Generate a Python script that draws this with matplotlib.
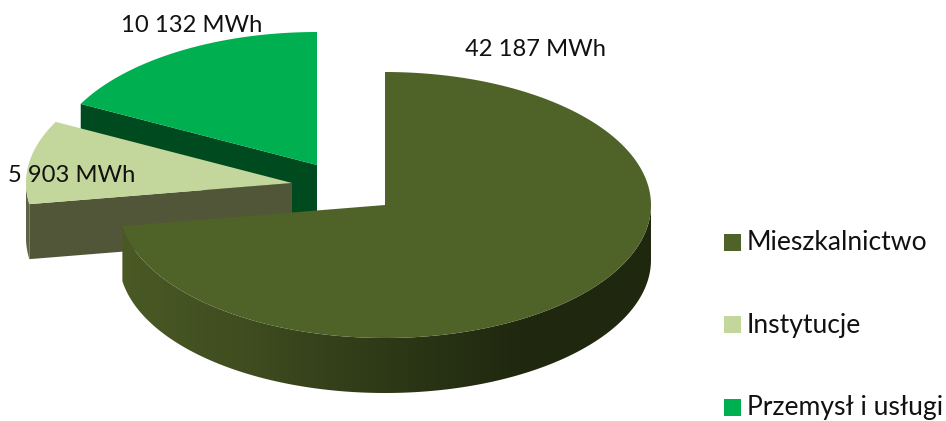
import numpy as np
import matplotlib
matplotlib.use("Agg")
import matplotlib.pyplot as plt
from matplotlib.colors import LinearSegmentedColormap
from matplotlib.patches import Polygon, Rectangle

categories = ["Mieszkalnictwo", "Instytucje", "Przemysł i usługi"]
values = [42187, 5903, 10132]
value_labels = ["42 187 MWh", "5 903 MWh", "10 132 MWh"]

top_colors = ["#4F6228", "#C3D69B", "#00B050"]
side_colors = ["#36431B", "#525639", "#004A20"]
centers = [(385, 205), (292, 183), (317, 165)]  # exploded slices, pixels

RX, RY = 266, 133
DEPTH = 55

plt.rcParams["font.family"] = ["Lato", "DejaVu Sans"]


def arc(cx, cy, a0, a1):
    # angles in degrees, clockwise from the top of the pie
    t = np.radians(np.linspace(a0, a1, 200))
    return np.column_stack([cx + RX * np.sin(t), cy - RY * np.cos(t)])


fig = plt.figure(figsize=(9.46, 4.21), dpi=100)
ax = fig.add_axes([0, 0, 1, 1])

fractions = np.array(values) / sum(values)
stops = np.concatenate([[0], np.cumsum(fractions) * 360])

# back to front: last slice sits furthest away
for i in [2, 1, 0]:
    cx, cy = centers[i]
    a0, a1 = stops[i], stops[i + 1]
    rim = arc(cx, cy, a0, a1)
    tip = np.array([[cx, cy]])

    if i == 0:
        # outer wall, only the front part can be seen
        front = arc(cx, cy, 90, a1)
        wall = np.vstack([front, front[::-1] + [0, DEPTH]])
        shade = LinearSegmentedColormap.from_list(
            "wall", ["#4A5A25", "#3E4C1F", "#2E3917", "#20280F", "#1F2710"])
        img = ax.imshow(np.linspace(0, 1, 256).reshape(1, -1), cmap=shade,
                        extent=[cx - RX, cx + RX, 421, 0], aspect="auto", zorder=i * -1 + 5)
        img.set_clip_path(Polygon(wall, transform=ax.transData))
    else:
        # cut face on the leading edge, seen from the front left
        start = rim[0]
        face = np.array([start, tip[0], tip[0] + [0, DEPTH], start + [0, DEPTH]])
        ax.add_patch(Polygon(face, fc=side_colors[i], ec="none", zorder=-i + 5))
        if i == 1:
            left = arc(cx, cy, a0, 270)
            wall = np.vstack([left, left[::-1] + [0, DEPTH]])
            ax.add_patch(Polygon(wall, fc="#5E6245", ec="none", zorder=-i + 5))

    ax.add_patch(Polygon(np.vstack([tip, rim]), fc=top_colors[i], ec="none", zorder=-i + 5.1))

# value labels
ax.text(535, 50, value_labels[0], ha="center", va="center", fontsize=17.1, color="#111111", zorder=10)
ax.text(72, 175, value_labels[1], ha="center", va="center", fontsize=17.1, color="#111111", zorder=10)
ax.text(192, 25, value_labels[2], ha="center", va="center", fontsize=17.1, color="#111111", zorder=10)

# legend
for name, color, y in zip(categories, top_colors, [243, 325, 408]):
    ax.add_patch(Rectangle((724, y - 9.5), 17, 17, fc=color, ec="none", zorder=10))
    ax.text(747, y, name, ha="left", va="center", fontsize=19.1, color="#111111", zorder=10)

ax.set_xlim(0, 946)
ax.set_ylim(421, 0)
ax.axis("off")

fig.savefig("out.png", dpi=100)
